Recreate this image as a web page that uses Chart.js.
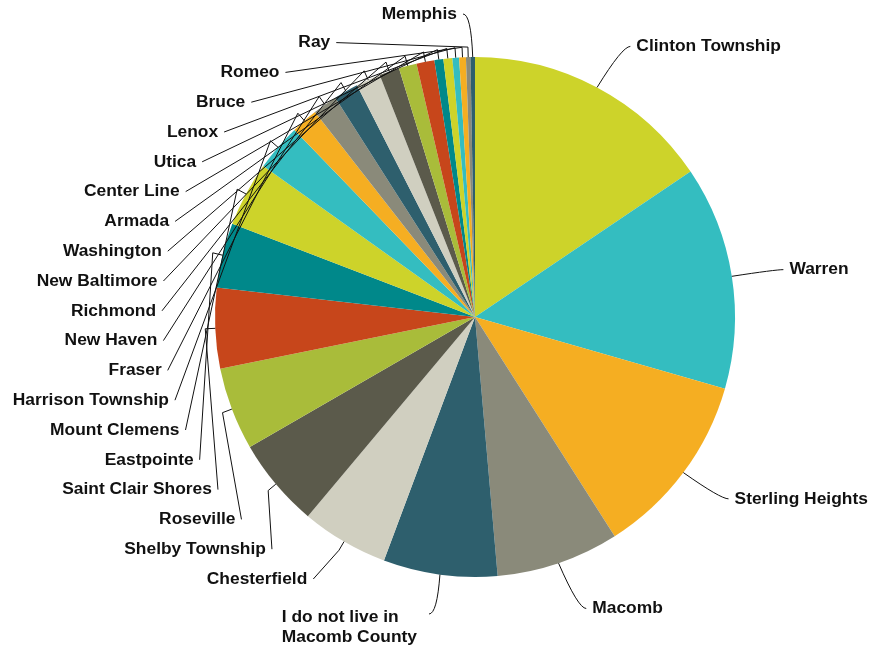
<!DOCTYPE html>
<html lang="en">
<head>
    <meta charset="UTF-8">
    <title>Macomb County residents</title>
    <style>
        body {
            margin: 0;
            background: #ffffff;
        }
        canvas {
            display: block;
        }
    </style>
    <script src="https://cdn.jsdelivr.net/npm/chart.js"></script>
</head>
<body>
    <canvas id="pieChart" width="871" height="648"></canvas>

    <script>
        var places = [
            'Clinton Township', 'Warren', 'Sterling Heights', 'Macomb',
            ['I do not live in', 'Macomb County'], 'Chesterfield', 'Shelby Township',
            'Roseville', 'Saint Clair Shores', 'Eastpointe', 'Mount Clemens',
            'Harrison Township', 'Fraser', 'New Haven', 'Richmond', 'New Baltimore',
            'Washington', 'Armada', 'Center Line', 'Utica', 'Lenox', 'Bruce',
            'Romeo', 'Ray', 'Memphis'
        ];
        var responses = [
            56, 50, 41.5, 27.5, 25.5, 19.5, 20, 18.5, 18, 14.5, 14.5, 10.5,
            6, 5.5, 5.5, 5.5, 4.5, 4, 4, 2, 2, 1.5, 1.5, 1, 1
        ];
        var palette = [
            '#cdd32a', '#34bdc0', '#f5ae22', '#8a8a7a', '#2e5f6d',
            '#d0cfc0', '#5b5a4b', '#a9bc3a', '#c7461b', '#00888a'
        ];

        // labels drawn outside the pie, with leader lines
        var outLabels = {
            id: 'outLabels',
            afterDraw: function (chart) {
                var ctx = chart.ctx;
                var arcs = chart.getDatasetMeta(0).data;
                var n = arcs.length;
                ctx.save();
                ctx.font = 'bold 17.4px "Liberation Sans", Arial, sans-serif';
                ctx.fillStyle = '#111';
                ctx.strokeStyle = '#111';
                ctx.lineWidth = 1;
                ctx.textBaseline = 'middle';

                arcs.forEach(function (arc, i) {
                    var cx = arc.x, cy = arc.y, r = arc.outerRadius;
                    var mid = (arc.startAngle + arc.endAngle) / 2;
                    var pt = function (rad, ang) {
                        if (ang === undefined) ang = mid;
                        return { x: cx + Math.cos(ang) * rad, y: cy + Math.sin(ang) * rad };
                    };
                    var edge = pt(r);
                    var text = places[i];
                    var a, dir;

                    if (i < 4) {
                        // right side, nudged a little toward horizontal
                        a = pt(r + 52, mid * 0.97);
                        dir = 1;
                    } else if (i === 4) {
                        a = { x: cx - 46, y: cy + 297 };
                        dir = -1;
                    } else if (i === n - 1) {
                        a = { x: cx - 12, y: cy - r - 43 };
                        dir = -1;
                    } else {
                        // left column, evenly spaced upward
                        var y = cy + 262 - (i - 5) * 29.8;
                        var dy = y - (cy - 6);
                        var R = 313;
                        var x = cx - Math.sqrt(Math.max(R * R - dy * dy, 0)) +
                            Math.max(0, -dy - 130) * 0.12 + Math.max(0, -dy - 240) * 0.2;
                        a = { x: x, y: y };
                        dir = -1;
                    }

                    ctx.beginPath();
                    if (i >= 5 && i < n - 1) {
                        var q = pt(r + 10);
                        ctx.moveTo(a.x, a.y);
                        ctx.lineTo(q.x, q.y);
                        ctx.lineTo(edge.x, edge.y);
                    } else {
                        ctx.moveTo(edge.x, edge.y);
                        ctx.quadraticCurveTo(a.x - dir * 8, a.y, a.x, a.y);
                    }
                    ctx.stroke();

                    if (Array.isArray(text)) {
                        var w = Math.max.apply(null, text.map(function (t) { return ctx.measureText(t).width; }));
                        ctx.textAlign = 'left';
                        text.forEach(function (t, k) {
                            ctx.fillText(t, a.x - 12 - w, a.y + 3 + k * 20);
                        });
                    } else {
                        ctx.textAlign = dir > 0 ? 'left' : 'right';
                        ctx.fillText(text, a.x + dir * 6, a.y);
                    }
                });
                ctx.restore();
            }
        };

        function drawChart() {
            var ctx = document.getElementById('pieChart').getContext('2d');
            new Chart(ctx, {
                type: 'pie',
                data: {
                    labels: places,
                    datasets: [{
                        data: responses,
                        backgroundColor: places.map(function (_, i) { return palette[i % palette.length]; }),
                        borderWidth: 0,
                        hoverOffset: 0,
                        offset: 0
                    }]
                },
                options: {
                    responsive: false,
                    animation: false,
                    devicePixelRatio: 1,
                    layout: {
                        padding: { left: 215, right: 136, top: 57, bottom: 71 }
                    },
                    plugins: {
                        legend: { display: false },
                        tooltip: { enabled: false }
                    }
                },
                plugins: [outLabels]
            });
        }

        document.addEventListener('DOMContentLoaded', drawChart);
    </script>
</body>
</html>
